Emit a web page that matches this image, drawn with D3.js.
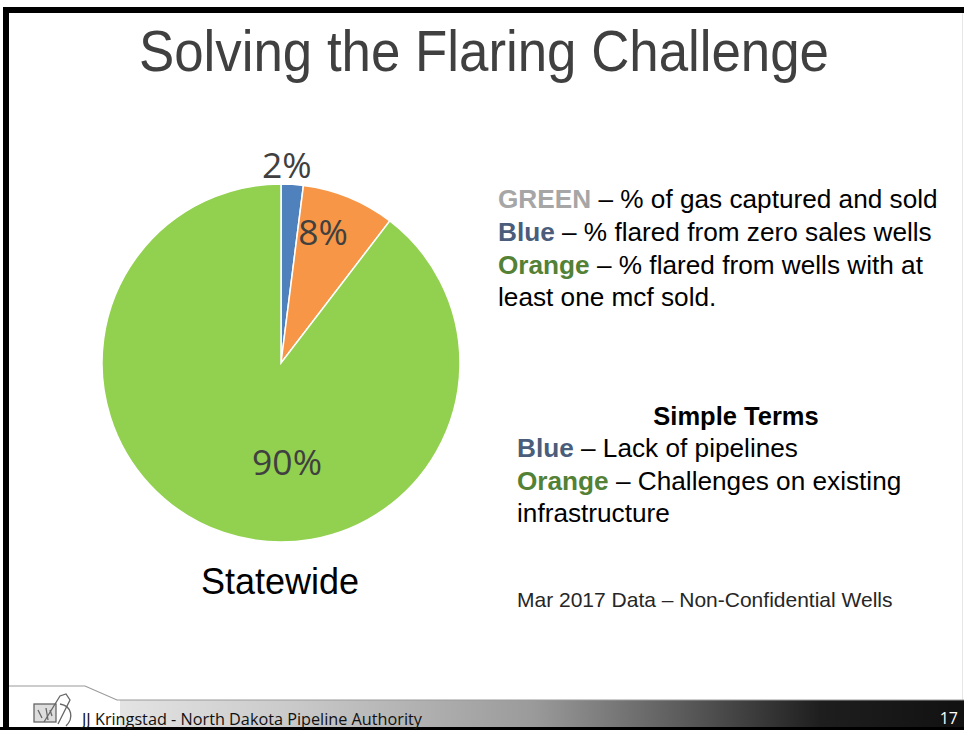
<!DOCTYPE html>
<html>
<head>
<meta charset="utf-8">
<script src="https://cdn.jsdelivr.net/npm/d3@7"></script>
<style>
  body { margin: 0; background: #fff; }
  svg { display: block; }
  text { font-family: "Liberation Sans", Arial, sans-serif; }
</style>
</head>
<body>
<div id="slide"></div>
<script>
// data
var categories = ["Blue", "Orange", "Green"];
var shares = [2.0, 8.4, 89.6];
var shareLabels = ["2%", "8%", "90%"];
var sliceColors = ["#4f81bd", "#f79646", "#92d050"];

var svgWidth = 964;
var svgHeight = 730;

var svg = d3.select("#slide")
  .append("svg")
  .attr("width", svgWidth)
  .attr("height", svgHeight);

// slide frame
svg.append("rect").attr("x", 0).attr("y", 0).attr("width", svgWidth).attr("height", svgHeight).attr("fill", "#fff");
svg.append("rect").attr("x", 3).attr("y", 7).attr("width", 961).attr("height", 6).attr("fill", "#000");
svg.append("rect").attr("x", 3).attr("y", 7).attr("width", 6).attr("height", 723).attr("fill", "#000");
svg.append("line").attr("x1", 962.5).attr("x2", 962.5).attr("y1", 13).attr("y2", 700)
  .attr("stroke", "#e6e6e6");

// title
svg.append("text")
  .attr("x", 484)
  .attr("y", 71)
  .attr("text-anchor", "middle")
  .attr("textLength", 690)
  .attr("lengthAdjust", "spacingAndGlyphs")
  .style("font-size", "57px")
  .style("fill", "#404040")
  .text("Solving the Flaring Challenge");

// pie
var cx = 281, cy = 363, radius = 179;
var pieGroup = svg.append("g").attr("transform", `translate(${cx}, ${cy})`);

var pie = d3.pie().sort(null).value(d => d.value);
var arc = d3.arc().innerRadius(0).outerRadius(radius);

var pieData = pie(categories.map((c, i) => ({ name: c, value: shares[i], label: shareLabels[i], color: sliceColors[i] })));

pieGroup.selectAll("path")
  .data(pieData)
  .enter()
  .append("path")
  .attr("d", arc)
  .attr("fill", d => d.data.color)
  .attr("stroke", "#fff")
  .attr("stroke-width", 1.5);

// where each label sits (angle in degrees from 12 o'clock, radius in px)
var labelSpots = [{ a: 1.7, r: 198 }, { a: 17.9, r: 137 }, { a: 176.5, r: 99 }];
pieGroup.selectAll("text.pct")
  .data(pieData)
  .enter()
  .append("text")
  .attr("class", "pct")
  .attr("transform", (d, i) => {
    var a = labelSpots[i].a * Math.PI / 180;
    var r = labelSpots[i].r;
    return `translate(${Math.sin(a) * r}, ${-Math.cos(a) * r})`;
  })
  .attr("dy", "0.36em")
  .attr("text-anchor", "middle")
  .style("font-family", "'Open Sans', 'Noto Sans', sans-serif")
  .style("font-size", "35.5px")
  .style("fill", "#404040")
  .text(d => d.data.label);

svg.append("text")
  .attr("x", 280)
  .attr("y", 594)
  .attr("text-anchor", "middle")
  .style("font-size", "36px")
  .style("fill", "#000")
  .text("Statewide");

// legend text on the right
function richLine(x, y, size, parts, anchor) {
  var t = svg.append("text")
    .attr("x", x)
    .attr("y", y)
    .attr("text-anchor", anchor || "start")
    .style("font-size", size + "px");
  parts.forEach(p => {
    t.append("tspan")
      .style("font-weight", p.bold ? "bold" : "normal")
      .style("fill", p.color || "#000")
      .text(p.text);
  });
  return t;
}

var gray = "#a6a6a6", slate = "#4a5d7b", green = "#538135";

richLine(498, 208, 26.2, [{ text: "GREEN", bold: true, color: gray }, { text: " – % of gas captured and sold" }]);
richLine(498, 241, 26.2, [{ text: "Blue", bold: true, color: slate }, { text: " – % flared from zero sales wells" }]);
richLine(498, 274, 26.2, [{ text: "Orange", bold: true, color: green }, { text: " – % flared from wells with at" }]);
richLine(498, 306, 26.2, [{ text: "least one mcf sold." }]);

richLine(736, 425, 25.5, [{ text: "Simple Terms", bold: true }], "middle");
richLine(517, 457, 26.2, [{ text: "Blue", bold: true, color: slate }, { text: " – Lack of pipelines" }]);
richLine(517, 490, 26.2, [{ text: "Orange", bold: true, color: green }, { text: " – Challenges on existing" }]);
richLine(517, 522, 26.2, [{ text: "infrastructure" }]);

richLine(517, 607, 21, [{ text: "Mar 2017 Data – Non-Confidential Wells", color: "#262626" }]);

// footer band
var defs = svg.append("defs");
var grad = defs.append("linearGradient").attr("id", "footGrad")
  .attr("x1", "0%").attr("x2", "100%").attr("y1", "0%").attr("y2", "0%");
grad.append("stop").attr("offset", "0%").attr("stop-color", "#f4f4f4");
grad.append("stop").attr("offset", "30%").attr("stop-color", "#c9c9c9");
grad.append("stop").attr("offset", "55%").attr("stop-color", "#9a9a9a");
grad.append("stop").attr("offset", "72%").attr("stop-color", "#555");
grad.append("stop").attr("offset", "85%").attr("stop-color", "#1e1e1e");
grad.append("stop").attr("offset", "100%").attr("stop-color", "#111");

svg.append("path")
  .attr("d", "M9,700 L120,700 L964,700 L964,727 L9,727 Z")
  .attr("fill", "url(#footGrad)");
svg.append("path")
  .attr("d", "M9,727 L9,686 L85,686 L117,700 L120,700 L120,727 Z")
  .attr("fill", "#fff");
svg.append("path")
  .attr("d", "M9,686 L85,686 L117,700 L964,700")
  .attr("fill", "none")
  .attr("stroke", "#9a9a9a")
  .attr("stroke-width", 1.2);
svg.append("rect").attr("x", 0).attr("y", 727).attr("width", svgWidth).attr("height", 3).attr("fill", "#000");

// little logo sketch
var logo = svg.append("g").attr("transform", "translate(30, 692)")
  .attr("fill", "none").attr("stroke", "#666").attr("stroke-width", 1.3);
logo.append("rect").attr("x", 4).attr("y", 12).attr("width", 22).attr("height", 18).attr("fill", "#ddd");
logo.append("path").attr("d", "M14,30 L30,4 L36,2 L40,8 L28,32");
logo.append("path").attr("d", "M30,12 C42,14 44,26 36,34");
logo.append("path").attr("d", "M8,18 L12,26 M16,16 L18,28 M20,18 L22,24");

svg.append("text")
  .attr("x", 82)
  .attr("y", 725)
  .attr("textLength", 340)
  .attr("lengthAdjust", "spacingAndGlyphs")
  .style("font-family", "'Open Sans', 'Noto Sans', sans-serif")
  .style("font-size", "16.5px")
  .style("fill", "#111")
  .text("JJ Kringstad - North Dakota Pipeline Authority");

svg.append("text")
  .attr("x", 958)
  .attr("y", 724)
  .attr("text-anchor", "end")
  .style("font-family", "'Open Sans', 'Noto Sans', sans-serif")
  .style("font-size", "16px")
  .style("fill", "#fff")
  .text("17");
</script>
</body>
</html>
